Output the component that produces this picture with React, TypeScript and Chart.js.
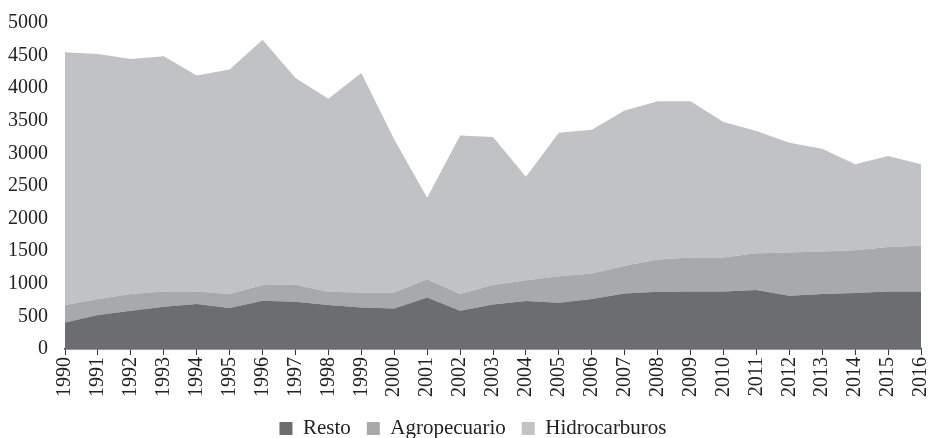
import React, { useEffect, useRef } from "react";
import { Chart, registerables } from "chart.js";

Chart.register(...registerables);

const years = [
  "1990", "1991", "1992", "1993", "1994", "1995", "1996", "1997", "1998", "1999",
  "2000", "2001", "2002", "2003", "2004", "2005", "2006", "2007", "2008", "2009",
  "2010", "2011", "2012", "2013", "2014", "2015", "2016",
];

// Values (stack components)
const resto = [
  408, 520, 587, 648, 689, 628, 740, 724, 673, 638,
  622, 791, 587, 684, 735, 709, 765, 852, 878, 883,
  883, 903, 816, 842, 857, 883, 883,
];
const agropecuario = [
  265, 245, 255, 235, 194, 214, 240, 261, 205, 229,
  245, 280, 255, 296, 321, 408, 393, 424, 494, 520,
  520, 566, 664, 653, 658, 683, 699,
];
const hidrocarburos = [
  3877, 3760, 3607, 3607, 3311, 3444, 3765, 3173, 2959, 3368,
  2347, 1250, 2433, 2270, 1587, 2199, 2204, 2382, 2429, 2398,
  2077, 1873, 1683, 1576, 1317, 1393, 1250,
];

const yTicks = [0, 500, 1000, 1500, 2000, 2500, 3000, 3500, 4000, 4500, 5000];

const FONT = "'Liberation Serif', 'Times New Roman', serif";

const legendShift = {
  id: "legendShift",
  afterLayout(chart: any) {
    const lg = chart.legend;
    if (lg) {
      lg.left += 17;
      lg.right += 17;
      lg.top += 3;
      lg.bottom += 3;
    }
  },
};

export default function App() {
  const ref = useRef<HTMLCanvasElement | null>(null);

  useEffect(() => {
    if (!ref.current) return;
    const chart = new Chart(ref.current, {
      type: "line",
      data: {
        labels: years,
        datasets: [
          {
            label: "Resto",
            data: resto,
            backgroundColor: "#6c6d71",
            borderColor: "#6c6d71",
            borderWidth: 0,
            pointRadius: 0,
            fill: "origin",
            tension: 0,
          },
          {
            label: "Agropecuario",
            data: agropecuario,
            backgroundColor: "#a8a9ac",
            borderColor: "#a8a9ac",
            borderWidth: 0,
            pointRadius: 0,
            fill: "-1",
            tension: 0,
          },
          {
            label: "Hidrocarburos",
            data: hidrocarburos,
            backgroundColor: "#c1c2c4",
            borderColor: "#c1c2c4",
            borderWidth: 0,
            pointRadius: 0,
            fill: "-1",
            tension: 0,
          },
        ],
      },
      options: {
        animation: false,
        responsive: false,
        maintainAspectRatio: false,
        layout: { padding: { top: 23, right: 7, left: -9, bottom: -8 } },
        plugins: {
          tooltip: { enabled: false },
          legend: {
            position: "bottom",
            labels: {
              font: { family: FONT, size: 21 },
              color: "#222",
              boxWidth: 13,
              boxHeight: 13,
              padding: 16,
            },
          },
        },
        scales: {
          x: {
            offset: false,
            afterFit: (scale: any) => {
              scale.paddingLeft = 0;
              scale.paddingRight = 0;
            },
            grid: {
              display: true,
              drawOnChartArea: false,
              drawTicks: true,
              tickLength: 6,
              color: "#333",
            },
            border: { display: true, color: "#333", width: 1.5 },
            ticks: {
              font: { family: FONT, size: 20 },
              color: "#222",
              minRotation: 90,
              maxRotation: 90,
              autoSkip: false,
              padding: 2,
            },
          },
          y: {
            stacked: true,
            min: 0,
            max: 5000,
            afterBuildTicks: (axis: any) => {
              axis.ticks = yTicks.map((v) => ({ value: v }));
            },
            afterFit: (scale: any) => {
              scale.paddingTop = 0;
              scale.paddingBottom = 0;
            },
            grid: { display: false, drawTicks: false },
            border: { display: false },
            ticks: {
              font: { family: FONT, size: 20 },
              color: "#222",
              padding: 17,
              callback: (v: any) => String(v),
            },
          },
        },
      },
      plugins: [legendShift],
    });
    return () => chart.destroy();
  }, []);

  return (
    <div style={{ position: "fixed", left: 0, top: 0, width: 928, height: 438, background: "#fff" }}>
      <canvas ref={ref} width={928} height={438} style={{ width: 928, height: 438 }} />
    </div>
  );
}
